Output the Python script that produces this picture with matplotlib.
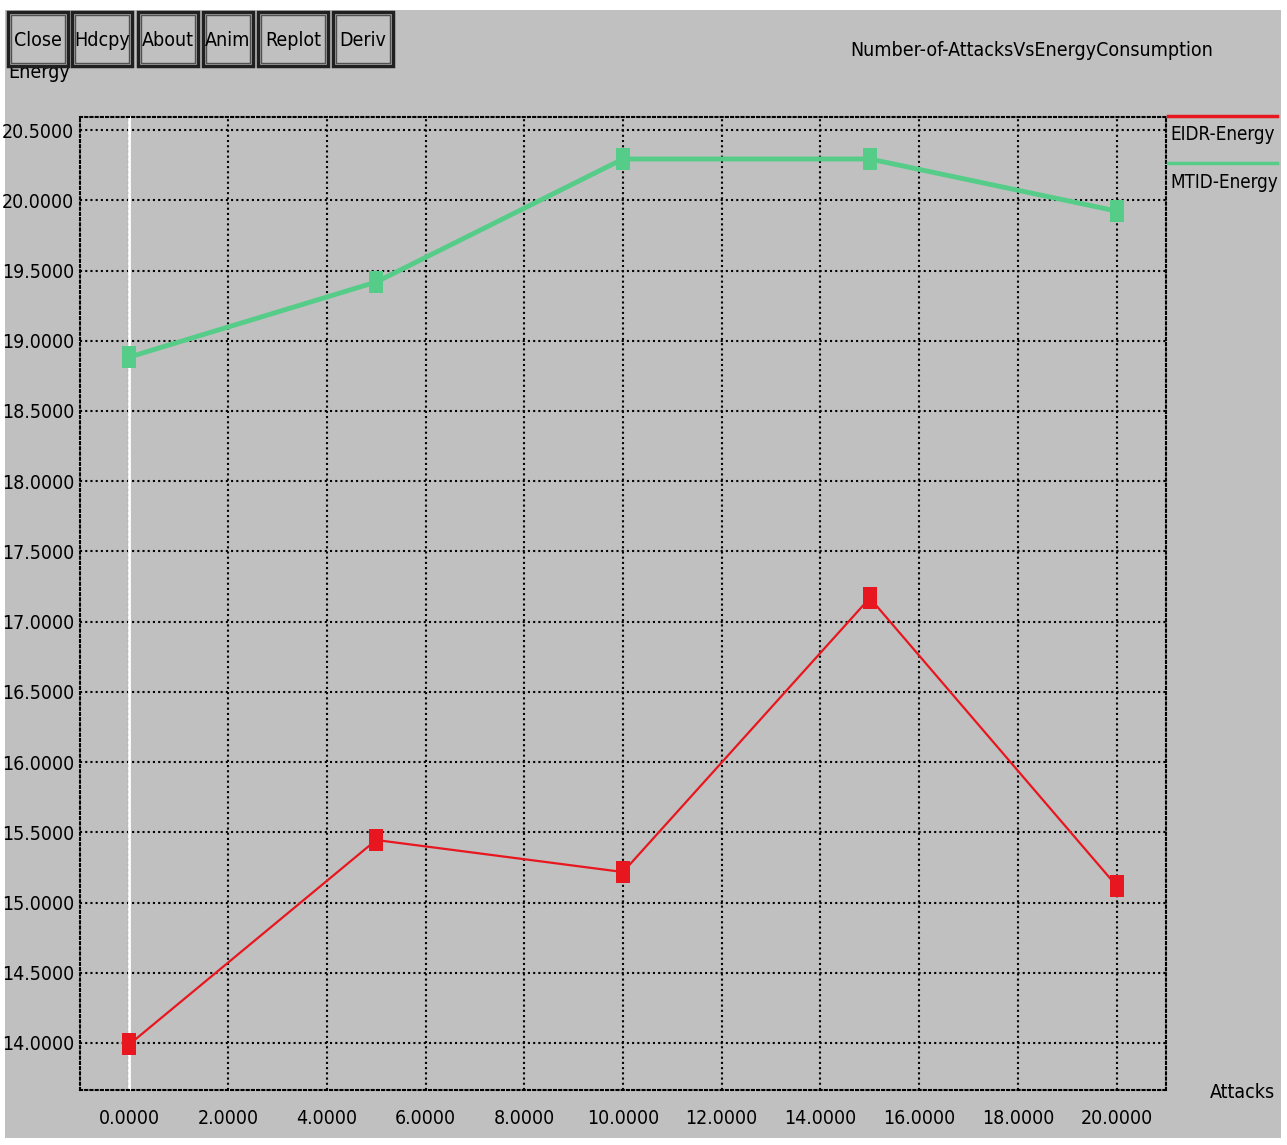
import matplotlib
matplotlib.use("Agg")
import matplotlib.pyplot as plt
from matplotlib.patches import Rectangle
from matplotlib.lines import Line2D

plt.rcParams['font.family'] = ['DejaVu Sans']
plt.rcParams['font.stretch'] = 'condensed'

# ---- data ----
attacks = [0, 5, 10, 15, 20]
eidr_energy = [13.99, 15.445, 15.217, 17.168, 15.118]
mtid_energy = [18.884, 19.418, 20.294, 20.294, 19.923]
series_names = ["EIDR-Energy", "MTID-Energy"]
x_ticks = [0, 2, 4, 6, 8, 10, 12, 14, 16, 18, 20]
y_ticks = [14.0, 14.5, 15.0, 15.5, 16.0, 16.5, 17.0, 17.5, 18.0, 18.5, 19.0, 19.5, 20.0, 20.5]
buttons = ["Close", "Hdcpy", "About", "Anim", "Replot", "Deriv"]
title = "Number-of-AttacksVsEnergyConsumption"
x_label = "Attacks"
y_label = "Energy"

W, H = 1287, 1145
BG = "#c0c0c0"
RED = "#e8161e"
GREEN = "#55cc88"
FS = 14

fig = plt.figure(figsize=(W / 100, H / 100), dpi=100, facecolor="white")

def fx(px):
    return px / W

def fy(py):
    return 1 - py / H

# gray window background
fig.patches.append(Rectangle((fx(5), fy(1138)), fx(1281) - fx(5), fy(10) - fy(1138),
                             transform=fig.transFigure, facecolor=BG, edgecolor="none", zorder=-1))

ax = fig.add_axes([fx(80), fy(1090), fx(1166) - fx(80), fy(117) - fy(1090)])
ax.set_zorder(1)
ax.set_facecolor(BG)
ax.set_xlim(-1, 21)
ax.set_ylim(13.665, 20.593)

dot = (0, (1, 1.5))
for s in ax.spines.values():
    s.set_linestyle(dot)
    s.set_linewidth(1.5)
    s.set_color("black")

ax.set_xticks(x_ticks)
ax.set_yticks(y_ticks)
ax.set_xticklabels([f"{v:.4f}" for v in x_ticks])
ax.set_yticklabels([f"{v:.4f}" for v in y_ticks])
ax.tick_params(length=0, labelsize=FS, pad=4)
ax.tick_params(axis="x", pad=14)
ax.grid(True, color="black", linestyle=dot, linewidth=1.5)
ax.set_axisbelow(True)

# zero axis
ax.axvline(0, color="white", linewidth=2, zorder=1.5)

tall_box = [(-0.65, -1), (0.65, -1), (0.65, 1), (-0.65, 1), (-0.65, -1)]
ax.plot(attacks, mtid_energy, color=GREEN, linewidth=3.5, marker=tall_box,
        markersize=16, markeredgewidth=0, zorder=3, clip_on=False)
ax.plot(attacks, eidr_energy, color=RED, linewidth=1.6, marker=tall_box,
        markersize=16, markeredgewidth=0, zorder=3, clip_on=False)

# legend (xgraph style, outside right)
fig.add_artist(Line2D([fx(1168), fx(1277)], [fy(116), fy(116)], color=RED, linewidth=2.5,
                      transform=fig.transFigure))
fig.text(fx(1170), fy(135), series_names[0], fontsize=FS - 0.5, va="center", ha="left")
fig.add_artist(Line2D([fx(1168), fx(1277)], [fy(163), fy(163)], color=GREEN, linewidth=2.5,
                      transform=fig.transFigure))
fig.text(fx(1170), fy(183), series_names[1], fontsize=FS - 0.5, va="center", ha="left")

# labels and title
fig.text(fx(1213), fy(50), title, fontsize=FS, va="center", ha="right")
fig.text(fx(8), fy(72), y_label, fontsize=FS, va="center", ha="left")
fig.text(fx(1275), fy(1093), x_label, fontsize=FS, va="center", ha="right")

# buttons
bx = [(8, 68), (72, 132), (138, 198), (203, 253), (258, 328), (333, 393)]
for (x0, x1), name in zip(bx, buttons):
    fig.patches.append(Rectangle((fx(x0), fy(66)), fx(x1) - fx(x0), fy(12) - fy(66),
                                 transform=fig.transFigure, facecolor=BG,
                                 edgecolor="#202020", linewidth=2.5, zorder=5))
    fig.patches.append(Rectangle((fx(x0 + 3), fy(63)), fx(x1 - 3) - fx(x0 + 3), fy(15) - fy(63),
                                 transform=fig.transFigure, facecolor="none",
                                 edgecolor="#505050", linewidth=1, zorder=5))
    fig.text(fx((x0 + x1) / 2), fy(40), name, fontsize=FS, va="center", ha="center", zorder=6)

fig.savefig("out.png", dpi=100, facecolor="white")
